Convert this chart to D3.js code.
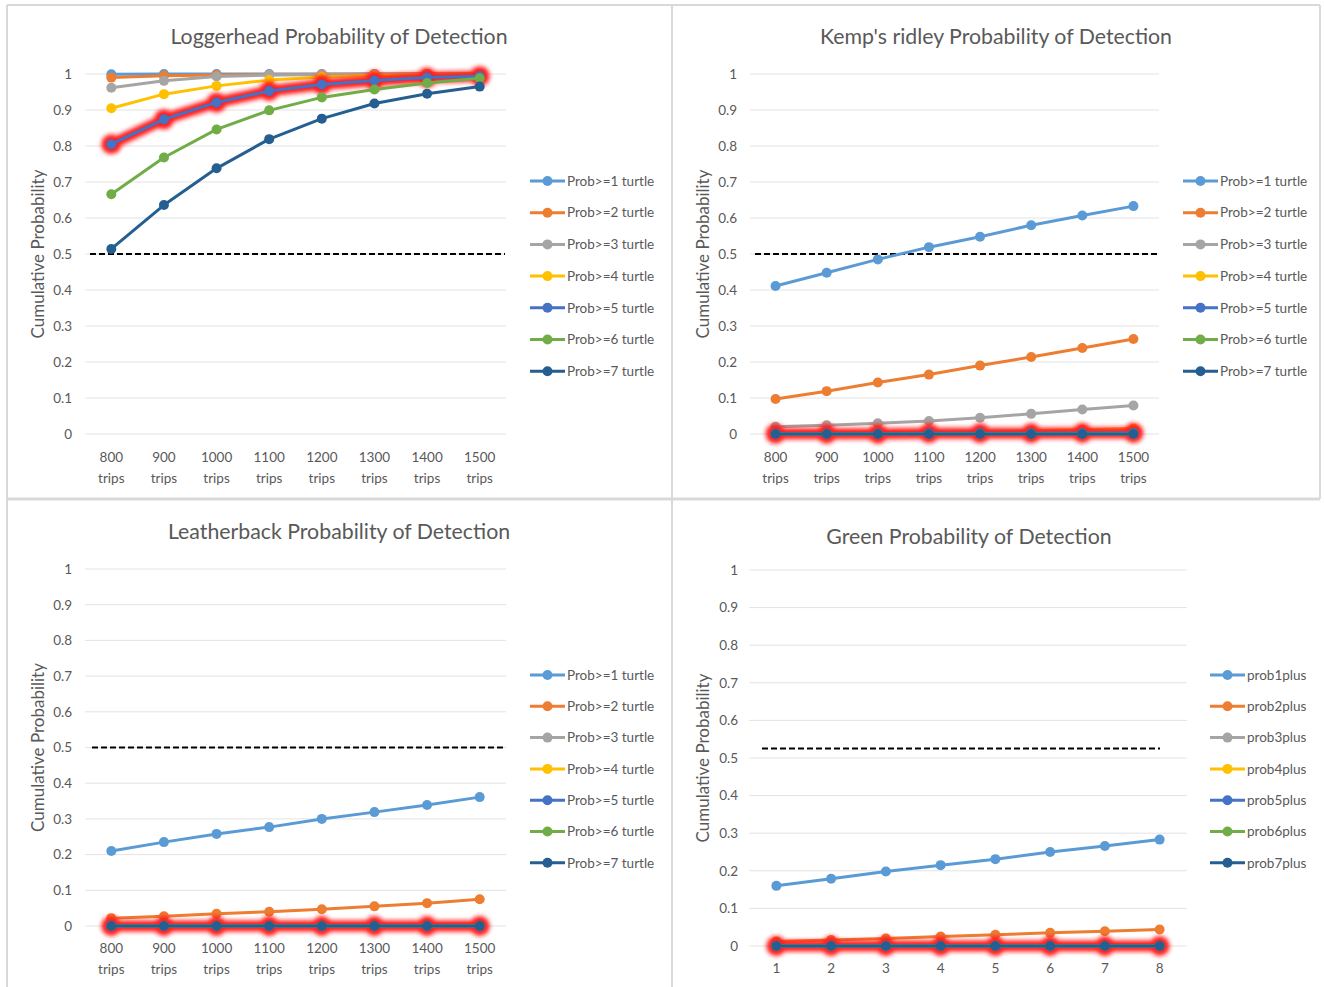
<!DOCTYPE html>
<html lang="en">
<head>
<meta charset="UTF-8">
<title>Probability of Detection</title>
<script src="https://cdn.jsdelivr.net/npm/d3@7"></script>
<style>
  body { margin: 0; background: #fff; }
  text { font-family: Lato, "Open Sans", sans-serif; fill: #595959; }
</style>
</head>
<body>
<script>
// ---- data ----
var tripCats = ["800 trips", "900 trips", "1000 trips", "1100 trips", "1200 trips", "1300 trips", "1400 trips", "1500 trips"];
var greenCats = ["1", "2", "3", "4", "5", "6", "7", "8"];

var turtleNames = ["Prob>=1 turtle", "Prob>=2 turtle", "Prob>=3 turtle", "Prob>=4 turtle", "Prob>=5 turtle", "Prob>=6 turtle", "Prob>=7 turtle"];
var plusNames = ["prob1plus", "prob2plus", "prob3plus", "prob4plus", "prob5plus", "prob6plus", "prob7plus"];

var yTicks = [0, 0.1, 0.2, 0.3, 0.4, 0.5, 0.6, 0.7, 0.8, 0.9, 1];

var loggerhead = [
  [0.999, 1, 1, 1, 1, 1, 1, 1],
  [0.99, 0.995, 0.997, 0.998, 0.999, 1, 1, 1],
  [0.962, 0.981, 0.993, 0.997, 0.998, 0.999, 1, 1],
  [0.905, 0.944, 0.967, 0.983, 0.992, 0.996, 0.998, 0.999],
  [0.805, 0.874, 0.921, 0.953, 0.971, 0.982, 0.99, 0.994],
  [0.666, 0.768, 0.846, 0.899, 0.935, 0.957, 0.975, 0.988],
  [0.514, 0.636, 0.738, 0.819, 0.876, 0.918, 0.945, 0.965]
];
var kemps = [
  [0.411, 0.448, 0.485, 0.519, 0.548, 0.58, 0.607, 0.633],
  [0.097, 0.119, 0.143, 0.165, 0.19, 0.214, 0.239, 0.264],
  [0.02, 0.024, 0.03, 0.036, 0.045, 0.056, 0.068, 0.079],
  [0.002, 0.003, 0.004, 0.005, 0.007, 0.009, 0.012, 0.015],
  [0.001, 0.001, 0.001, 0.002, 0.002, 0.002, 0.003, 0.003],
  [0, 0, 0, 0, 0, 0, 0, 0],
  [0, 0, 0, 0, 0, 0, 0, 0]
];
var leatherback = [
  [0.21, 0.235, 0.258, 0.277, 0.3, 0.319, 0.339, 0.361],
  [0.022, 0.027, 0.034, 0.04, 0.047, 0.055, 0.064, 0.075],
  [0.002, 0.002, 0.003, 0.003, 0.004, 0.005, 0.005, 0.006],
  [0, 0, 0, 0, 0, 0, 0, 0.001],
  [0, 0, 0, 0, 0, 0, 0, 0],
  [0, 0, 0, 0, 0, 0, 0, 0],
  [0, 0, 0, 0, 0, 0, 0, 0]
];
var green = [
  [0.16, 0.179, 0.198, 0.215, 0.231, 0.25, 0.266, 0.283],
  [0.012, 0.016, 0.02, 0.025, 0.03, 0.035, 0.039, 0.044],
  [0.001, 0.001, 0.001, 0.002, 0.002, 0.002, 0.003, 0.003],
  [0, 0, 0, 0, 0, 0, 0, 0],
  [0, 0, 0, 0, 0, 0, 0, 0],
  [0, 0, 0, 0, 0, 0, 0, 0],
  [0, 0, 0, 0, 0, 0, 0, 0]
];

var colors = ["#5b9bd5", "#ed7d31", "#a5a5a5", "#ffc000", "#4472c4", "#70ad47", "#255e91"];
var glowIndex = 4; // the series with the red glow

// ---- layout ----
var panels = [
  { title: "Loggerhead Probability of Detection", data: loggerhead, cats: tripCats, names: turtleNames, threshold: 0.5,
    left: 85, right: 506, top: 74, bottom: 434, titleX: 339, titleY: 37, axisTitleX: 38, tickX: 72, xLabelY: 457,
    legendX: 530, legendY: 181, legendStep: 31.7, dash: [90, 505] },
  { title: "Kemp's ridley Probability of Detection", data: kemps, cats: tripCats, names: turtleNames, threshold: 0.5,
    left: 750, right: 1159, top: 74, bottom: 434, titleX: 996, titleY: 37, axisTitleX: 703, tickX: 737, xLabelY: 457,
    legendX: 1183, legendY: 181, legendStep: 31.7, dash: [755, 1157] },
  { title: "Leatherback Probability of Detection", data: leatherback, cats: tripCats, names: turtleNames, threshold: 0.5,
    left: 85, right: 506, top: 569, bottom: 926, titleX: 339, titleY: 532, axisTitleX: 38, tickX: 72, xLabelY: 948,
    legendX: 530, legendY: 675, legendStep: 31.3, dash: [92, 505] },
  { title: "Green Probability of Detection", data: green, cats: greenCats, names: plusNames, threshold: 0.525,
    left: 749, right: 1187, top: 570, bottom: 946, titleX: 969, titleY: 537, axisTitleX: 703, tickX: 738, xLabelY: 968,
    legendX: 1210, legendY: 675, legendStep: 31.3, dash: [762, 1160] }
];

var svg = d3.select("body").append("svg")
  .attr("width", 1324)
  .attr("height", 987);

var defs = svg.append("defs");
defs.append("filter").attr("id", "glow")
  .attr("x", "-20%").attr("y", "-50%").attr("width", "140%").attr("height", "200%")
  .append("feGaussianBlur").attr("stdDeviation", 2.2);

// panel borders
var borderColor = "#d9d9d9";
svg.append("line").attr("x1", 7).attr("x2", 1320).attr("y1", 5).attr("y2", 5).attr("stroke", borderColor).attr("stroke-width", 2);
svg.append("line").attr("x1", 7).attr("x2", 1320).attr("y1", 499).attr("y2", 499).attr("stroke", borderColor).attr("stroke-width", 3);
svg.append("line").attr("x1", 7).attr("x2", 7).attr("y1", 5).attr("y2", 987).attr("stroke", borderColor).attr("stroke-width", 2);
svg.append("line").attr("x1", 672).attr("x2", 672).attr("y1", 5).attr("y2", 987).attr("stroke", borderColor).attr("stroke-width", 2);
svg.append("line").attr("x1", 1320).attr("x2", 1320).attr("y1", 5).attr("y2", 499).attr("stroke", borderColor).attr("stroke-width", 2);

panels.forEach(function(p) {
  var g = svg.append("g");

  var x = d3.scaleBand().domain(p.cats).range([p.left, p.right]);
  var y = d3.scaleLinear().domain([0, 1]).range([p.bottom, p.top]);
  var cx = function(d, i) { return x(p.cats[i]) + x.bandwidth() / 2; };

  // title
  g.append("text")
    .attr("x", p.titleX).attr("y", p.titleY).attr("dy", "0.35em")
    .attr("text-anchor", "middle")
    .style("font-size", "21.3px")
    .text(p.title);

  // gridlines
  g.selectAll(".grid").data(yTicks).enter().append("line")
    .attr("x1", p.left).attr("x2", p.right)
    .attr("y1", function(d) { return y(d); })
    .attr("y2", function(d) { return y(d); })
    .attr("stroke", "#e3e3e3").attr("stroke-width", 1);

  // y axis labels
  var yAxis = d3.axisLeft(y).tickValues(yTicks).tickSize(0).tickPadding(0)
    .tickFormat(function(d) { return d3.format("")(+d.toFixed(1)); });
  var ya = g.append("g").attr("transform", "translate(" + p.tickX + ",0)").call(yAxis);
  ya.select(".domain").remove();
  ya.selectAll("text").style("font-size", "13.5px").style("font-family", "Lato, sans-serif").attr("fill", "#595959");

  // x axis labels
  var xAxis = d3.axisBottom(x).tickSize(0).tickPadding(0);
  var xa = g.append("g").attr("transform", "translate(0," + p.xLabelY + ")").call(xAxis);
  xa.select(".domain").remove();
  xa.selectAll("text")
    .style("font-size", "13.5px").style("font-family", "Lato, sans-serif").attr("fill", "#595959")
    .attr("dy", null).attr("y", 0)
    .each(function(d) {
      var parts = d.split(" ");
      var t = d3.select(this).text(null);
      parts.forEach(function(s, k) {
        t.append("tspan").attr("x", 0).attr("dy", k === 0 ? "0.35em" : "21px").text(s);
      });
    });

  // y axis title
  g.append("text")
    .attr("transform", "translate(" + p.axisTitleX + "," + ((p.top + p.bottom) / 2) + ") rotate(-90)")
    .attr("text-anchor", "middle").attr("dy", "0.35em")
    .style("font-size", "17px")
    .text("Cumulative Probability");

  // threshold line
  g.append("line")
    .attr("x1", p.dash[0]).attr("x2", p.dash[1])
    .attr("y1", y(p.threshold)).attr("y2", y(p.threshold))
    .attr("stroke", "#000").attr("stroke-width", 2).attr("stroke-dasharray", "6,3");

  var line = d3.line().x(cx).y(function(d) { return y(d); });

  p.data.forEach(function(vals, si) {
    if (si === glowIndex) {
      var glow = g.append("g").attr("filter", "url(#glow)");
      glow.append("path").datum(vals).attr("d", line)
        .attr("fill", "none").attr("stroke", "#ff1a1a").attr("stroke-width", 11)
        .attr("stroke-linejoin", "round").attr("stroke-linecap", "round");
      glow.selectAll("circle").data(vals).enter().append("circle")
        .attr("cx", cx).attr("cy", function(d) { return y(d); })
        .attr("r", 10).attr("fill", "#ff1a1a");
    }
    g.append("path").datum(vals).attr("d", line)
      .attr("fill", "none").attr("stroke", colors[si]).attr("stroke-width", 3)
      .attr("stroke-linejoin", "round");
    g.selectAll(".pt" + si).data(vals).enter().append("circle")
      .attr("cx", cx).attr("cy", function(d) { return y(d); })
      .attr("r", 5).attr("fill", colors[si]);
  });

  // legend
  var lg = g.selectAll(".leg").data(p.names).enter().append("g")
    .attr("transform", function(d, i) { return "translate(" + p.legendX + "," + (p.legendY + i * p.legendStep) + ")"; });
  lg.append("line").attr("x1", 0).attr("x2", 35)
    .attr("stroke", function(d, i) { return colors[i]; }).attr("stroke-width", 3);
  lg.append("circle").attr("cx", 17.5).attr("r", 5)
    .attr("fill", function(d, i) { return colors[i]; });
  lg.append("text").attr("x", 37).attr("dy", "0.35em")
    .style("font-size", "13.5px")
    .text(function(d) { return d; });
});
</script>
</body>
</html>
